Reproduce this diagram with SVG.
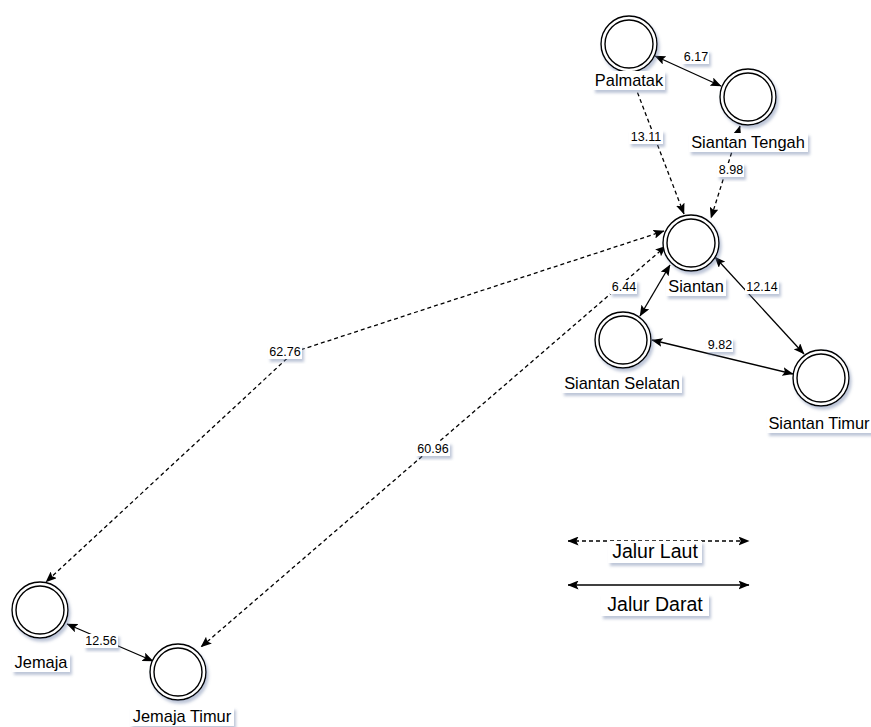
<svg xmlns="http://www.w3.org/2000/svg" width="871" height="727" viewBox="0 0 871 727">
  <defs>
    <filter id="shadow" x="-30%" y="-30%" width="160%" height="160%">
      <feDropShadow dx="2" dy="3" stdDeviation="1.6" flood-color="#7080a8" flood-opacity="0.45"/>
    </filter>
    <marker id="arrow" viewBox="0 0 11 9" refX="10.5" refY="4.5" markerWidth="11" markerHeight="9" markerUnits="userSpaceOnUse" orient="auto-start-reverse">
      <path d="M0,0 L11,4.5 L0,9 L2.2,4.5 Z" fill="#000"/>
    </marker>
    <symbol id="state" overflow="visible">
      <circle cx="0" cy="0" r="28" fill="#fff" stroke="#000" stroke-width="1.4"/>
      <circle cx="0" cy="0" r="24" fill="none" stroke="#000" stroke-width="1.4"/>
    </symbol>
  </defs>
  <style>
    .edge { fill: none; stroke: #000; stroke-width: 1.3; marker-start: url(#arrow); marker-end: url(#arrow); }
    .sea { stroke-dasharray: 4 3; }
    .box { fill: #fff; filter: url(#shadow); }
    .name { font-family: "Liberation Sans", Arial, sans-serif; font-size: 16.4px; fill: #000; text-anchor: middle; }
    .weight { font-family: "Liberation Sans", Arial, sans-serif; font-size: 12.5px; fill: #000; text-anchor: middle; }
    .legend { font-family: "Liberation Sans", Arial, sans-serif; font-size: 19.5px; fill: #000; text-anchor: middle; }
    .node { filter: url(#shadow); }
  </style>

  <rect width="871" height="727" fill="#fff"/>

  <!-- connectors -->
  <g id="connectors">
    <line class="edge" x1="655" y1="56" x2="721" y2="86"/>
    <line class="edge sea" x1="630" y1="73" x2="684" y2="214"/>
    <line class="edge sea" x1="740" y1="126" x2="711" y2="218"/>
    <polyline class="edge sea" points="664,231 294,352 46,582"/>
    <line class="edge sea" x1="666" y1="246" x2="201" y2="647"/>
    <line class="edge" x1="670" y1="265" x2="640" y2="316"/>
    <line class="edge" x1="715" y1="257" x2="804" y2="354"/>
    <line class="edge" x1="652" y1="340" x2="793" y2="374"/>
    <line class="edge" x1="67" y1="624" x2="153" y2="661"/>

    <!-- weights -->
    <g id="w-palmatak-tengah"><rect class="box" x="682" y="50" width="27" height="14"/><text class="weight" x="696" y="61">6.17</text></g>
    <g id="w-palmatak-siantan"><rect class="box" x="629" y="130" width="34" height="14"/><text class="weight" x="646" y="141">13.11</text></g>
    <g id="w-tengah-siantan"><rect class="box" x="717" y="163" width="27" height="14"/><text class="weight" x="731" y="174">8.98</text></g>
    <g id="w-siantan-jemaja"><rect class="box" x="268" y="345" width="34" height="14"/><text class="weight" x="285" y="356">62.76</text></g>
    <g id="w-siantan-jemajatimur"><rect class="box" x="416" y="442" width="34" height="14"/><text class="weight" x="433" y="453">60.96</text></g>
    <g id="w-siantan-selatan"><rect class="box" x="610" y="280" width="27" height="14"/><text class="weight" x="624" y="291">6.44</text></g>
    <g id="w-siantan-timur"><rect class="box" x="745" y="280" width="34" height="14"/><text class="weight" x="762" y="291">12.14</text></g>
    <g id="w-selatan-timur"><rect class="box" x="706" y="338" width="27" height="14"/><text class="weight" x="720" y="349">9.82</text></g>
    <g id="w-jemaja-jemajatimur"><rect class="box" x="84" y="634" width="34" height="14"/><text class="weight" x="101" y="645">12.56</text></g>
  </g>

  <!-- nodes -->
  <g id="palmatak">
    <use href="#state" x="629" y="44" class="node"/>
    <rect class="box" x="593" y="71" width="72" height="19"/>
    <text class="name" x="629" y="86">Palmatak</text>
  </g>
  <g id="siantan-tengah">
    <use href="#state" x="748" y="97" class="node"/>
    <rect class="box" x="689" y="133" width="119" height="19"/>
    <text class="name" x="748" y="148">Siantan Tengah</text>
  </g>
  <g id="siantan">
    <use href="#state" x="691" y="243" class="node"/>
    <rect class="box" x="666" y="277" width="60" height="19"/>
    <text class="name" x="696" y="292">Siantan</text>
  </g>
  <g id="siantan-selatan">
    <use href="#state" x="623" y="340" class="node"/>
    <rect class="box" x="562" y="374" width="120" height="19"/>
    <text class="name" x="622" y="389">Siantan Selatan</text>
  </g>
  <g id="siantan-timur">
    <use href="#state" x="821" y="378" class="node"/>
    <rect class="box" x="767" y="414" width="105" height="19"/>
    <text class="name" x="819" y="429">Siantan Timur</text>
  </g>
  <g id="jemaja">
    <use href="#state" x="40" y="610" class="node"/>
    <rect class="box" x="12" y="653" width="58" height="19"/>
    <text class="name" x="41" y="668">Jemaja</text>
  </g>
  <g id="jemaja-timur">
    <use href="#state" x="178" y="672" class="node"/>
    <rect class="box" x="130" y="707" width="104" height="19"/>
    <text class="name" x="182" y="722">Jemaja Timur</text>
  </g>

  <!-- legend -->
  <g id="legend">
    <line class="edge sea" x1="568" y1="541" x2="749" y2="541"/>
    <rect class="box" x="608" y="541" width="94" height="22"/>
    <text class="legend" x="655" y="558">Jalur Laut</text>
    <line class="edge" x1="568" y1="585" x2="749" y2="585"/>
    <rect class="box" x="601" y="594" width="108" height="22"/>
    <text class="legend" x="655" y="611">Jalur Darat</text>
  </g>
</svg>
